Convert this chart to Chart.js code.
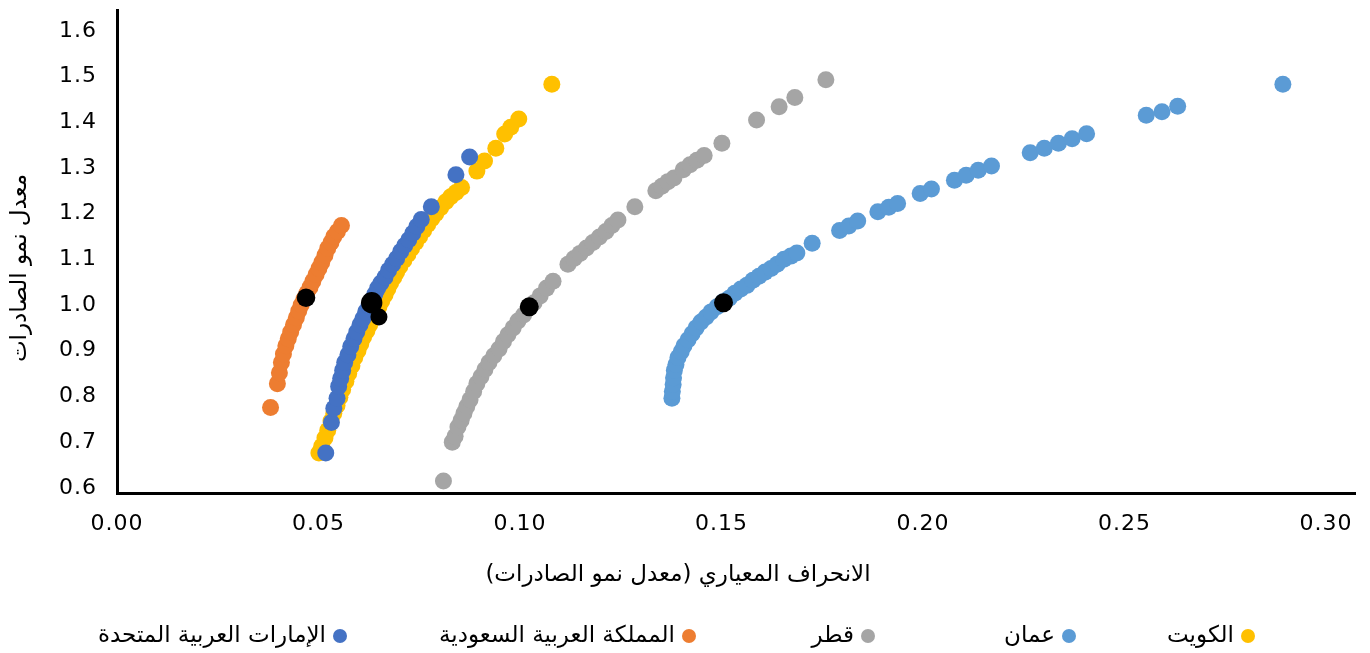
<!DOCTYPE html>
<html lang="ar">
<head>
<meta charset="utf-8">
<title>الحدود الكفؤة لصادرات دول الخليج</title>
<script src="https://cdn.jsdelivr.net/npm/chart.js@4.4.1/dist/chart.umd.min.js"></script>
<style>
  html, body { margin: 0; padding: 0; background: #fff; }
  #wrap { width: 1370px; height: 653px; }
</style>
</head>
<body>
<div id="wrap"><canvas id="chart" width="1370" height="653"></canvas></div>
<script>
// ترتيب السلاسل كما في وسيلة الإيضاح (من اليمين إلى اليسار)
const seriesNames = ['الكويت', 'عمان', 'قطر', 'المملكة العربية السعودية', 'الإمارات العربية المتحدة'];
const seriesColors = ['#FFC000', '#5B9BD5', '#A5A5A5', '#ED7D31', '#4472C4'];

const xTitle = 'الانحراف المعياري (معدل نمو الصادرات)';
const yTitle = 'معدل نمو الصادرات';
const xTicks = [0, 0.05, 0.10, 0.15, 0.20, 0.25, 0.30];
const yTicks = [0.6, 0.7, 0.8, 0.9, 1.0, 1.1, 1.2, 1.3, 1.4, 1.5, 1.6];

// [الانحراف المعياري, معدل النمو]
const kuwaitPoints = [
  [0.0501,0.676],[0.0508,0.691],[0.0516,0.709],[0.0523,0.726],[0.0531,0.746],[0.0538,0.763],
  [0.0546,0.780],[0.0553,0.798],[0.0560,0.815],[0.0568,0.833],[0.0575,0.850],[0.0583,0.867],
  [0.0590,0.885],[0.0598,0.900],[0.0605,0.915],[0.0612,0.930],[0.0620,0.943],[0.0627,0.957],
  [0.0635,0.970],[0.0642,0.983],[0.0650,0.996],[0.0657,1.009],[0.0665,1.022],[0.0672,1.035],
  [0.0679,1.048],[0.0687,1.061],[0.0694,1.072],[0.0702,1.085],[0.0712,1.098],[0.0722,1.111],
  [0.0731,1.124],[0.0741,1.137],[0.0751,1.150],[0.0761,1.163],[0.0771,1.176],[0.0781,1.189],
  [0.0791,1.200],[0.0803,1.213],[0.0816,1.226],[0.0828,1.237],[0.0841,1.246],[0.0855,1.257],
  [0.0893,1.293],[0.0912,1.315],[0.0940,1.343],[0.0962,1.374],[0.0977,1.389],[0.0997,1.407],
  [0.1079,1.483]
];
const omanPoints = [
  [0.1377,0.796],[0.1378,0.811],[0.1380,0.826],[0.1381,0.841],[0.1383,0.857],[0.1387,0.870],
  [0.1392,0.885],[0.1400,0.898],[0.1407,0.911],[0.1417,0.924],[0.1427,0.937],[0.1437,0.950],
  [0.1449,0.963],[0.1462,0.974],[0.1474,0.985],[0.1489,0.996],[0.1504,1.007],[0.1519,1.015],
  [0.1533,1.026],[0.1548,1.035],[0.1563,1.043],[0.1578,1.054],[0.1593,1.063],[0.1608,1.072],
  [0.1623,1.080],[0.1638,1.089],[0.1655,1.100],[0.1672,1.107],[0.1687,1.114],[0.1725,1.135],
  [0.1793,1.163],[0.1816,1.173],[0.1838,1.184],[0.1888,1.204],[0.1915,1.214],[0.1937,1.222],
  [0.1993,1.244],[0.2021,1.254],[0.2078,1.273],[0.2107,1.284],[0.2137,1.295],[0.2170,1.304],
  [0.2266,1.333],[0.2301,1.343],[0.2336,1.354],[0.2370,1.364],[0.2406,1.375],[0.2554,1.415],
  [0.2593,1.423],[0.2632,1.435],[0.2893,1.483]
];
const qatarPoints = [
  [0.0810,0.615],[0.0832,0.700],[0.0839,0.713],[0.0846,0.733],[0.0854,0.748],[0.0861,0.763],
  [0.0868,0.778],[0.0876,0.793],[0.0885,0.811],[0.0893,0.828],[0.0903,0.843],[0.0913,0.859],
  [0.0923,0.874],[0.0935,0.889],[0.0948,0.904],[0.0959,0.920],[0.0970,0.935],[0.0983,0.950],
  [0.0995,0.965],[0.1009,0.978],[0.1022,0.993],[0.1035,1.005],[0.1050,1.020],[0.1066,1.037],
  [0.1082,1.052],[0.1119,1.089],[0.1134,1.102],[0.1149,1.113],[0.1165,1.125],[0.1181,1.137],
  [0.1197,1.149],[0.1213,1.161],[0.1228,1.174],[0.1243,1.186],[0.1285,1.215],[0.1337,1.250],
  [0.1352,1.260],[0.1367,1.270],[0.1382,1.278],[0.1405,1.296],[0.1422,1.307],[0.1439,1.317],
  [0.1457,1.327],[0.1501,1.354],[0.1587,1.405],[0.1643,1.434],[0.1682,1.454],[0.1759,1.493]
];
const saudiPoints = [
  [0.0381,0.776],[0.0398,0.828],[0.0403,0.852],[0.0408,0.874],[0.0413,0.893],[0.0419,0.911],
  [0.0425,0.926],[0.0431,0.941],[0.0438,0.957],[0.0445,0.972],[0.0451,0.987],[0.0457,1.000],
  [0.0464,1.013],[0.0471,1.026],[0.0479,1.039],[0.0486,1.052],[0.0494,1.067],[0.0501,1.080],
  [0.0508,1.093],[0.0516,1.109],[0.0523,1.124],[0.0531,1.137],[0.0538,1.150],[0.0547,1.161],
  [0.0557,1.174]
];
const uaePoints = [
  [0.0518,0.676],[0.0532,0.743],[0.0538,0.774],[0.0546,0.796],[0.0550,0.822],[0.0555,0.839],
  [0.0560,0.857],[0.0565,0.874],[0.0573,0.891],[0.0580,0.909],[0.0588,0.926],[0.0595,0.941],
  [0.0603,0.957],[0.0610,0.970],[0.0617,0.985],[0.0625,0.998],[0.0632,1.011],[0.0640,1.024],
  [0.0647,1.037],[0.0655,1.048],[0.0665,1.061],[0.0674,1.076],[0.0684,1.089],[0.0694,1.102],
  [0.0704,1.117],[0.0714,1.130],[0.0724,1.143],[0.0734,1.157],[0.0744,1.172],[0.0755,1.187],
  [0.0780,1.215],[0.0841,1.285],[0.0875,1.324]
];
// المحافظ الفعلية (النقاط السوداء): السعودية، الكويت، الإمارات، قطر، عمان
const actualPoints = [[0.0469,1.016],[0.0650,0.974],[0.0632,1.005],[0.1023,0.996],[0.1505,1.005]];
const actualRadius = [9.3, 8.5, 10.7, 9.5, 9.5];

// مواضع علامات وسيلة الإيضاح
const legendMarkerX = [1248, 1069, 868, 689, 340];
const legendY = 636;

const toXY = pts => pts.map(([x, y]) => ({ x, y }));
const tickFont = { family: '"DejaVu Sans", sans-serif', size: 22 };
const arabicFont = '23px "DejaVu Sans"';

// المجموعة الأولى تُرسم في الأعلى في Chart.js
const datasets = [
    { label: 'actual', data: toXY(actualPoints), backgroundColor: '#000', pointRadius: actualRadius },
    { label: seriesNames[4], data: toXY(uaePoints), backgroundColor: seriesColors[4] },
    { label: seriesNames[3], data: toXY(saudiPoints), backgroundColor: seriesColors[3] },
    { label: seriesNames[2], data: toXY(qatarPoints), backgroundColor: seriesColors[2] },
    { label: seriesNames[1], data: toXY(omanPoints), backgroundColor: seriesColors[1] },
    { label: seriesNames[0], data: toXY(kuwaitPoints), backgroundColor: seriesColors[0] }
].map(ds => Object.assign({ pointRadius: 8.5, pointBorderWidth: 0, borderWidth: 0 }, ds));

// عناوين المحاور ووسيلة الإيضاح بالعربية
const arabicText = {
    id: 'arabicText',
    beforeDraw(chart) { chart.ctx.letterSpacing = '1px'; },
    beforeDatasetsDraw(chart) { chart.ctx.letterSpacing = '0px'; },
    afterDraw(chart) {
        const ctx = chart.ctx;
        ctx.save();
        ctx.letterSpacing = '0px';
        ctx.direction = 'rtl';
        ctx.fillStyle = '#000';
        ctx.textBaseline = 'middle';
        ctx.font = arabicFont;
        ctx.textAlign = 'center';
        ctx.fillText(xTitle, 678, 575);

        ctx.save();
        ctx.translate(20, 268);
        ctx.rotate(-Math.PI / 2);
        ctx.fillText(yTitle, 0, 0);
        ctx.restore();

        ctx.textAlign = 'right';
        seriesNames.forEach((name, i) => {
            const mx = legendMarkerX[i];
            ctx.beginPath();
            ctx.arc(mx, legendY, 7, 0, Math.PI * 2);
            ctx.fillStyle = seriesColors[i];
            ctx.fill();
            ctx.fillStyle = '#000';
            ctx.fillText(name, mx - 14, legendY);
        });
        ctx.restore();
    }
};

Chart.defaults.color = '#000';

new Chart(document.getElementById('chart'), {
    type: 'scatter',
    data: { datasets },
    options: {
        responsive: false,
        animation: false,
        events: [],
        devicePixelRatio: 1,
        layout: { padding: { left: 0, right: 15, top: 8, bottom: 60 } },
        plugins: { legend: { display: false }, tooltip: { enabled: false } },
        scales: {
            x: {
                type: 'linear',
                min: 0,
                max: 0.3072,
                grid: { display: false, drawTicks: false },
                border: { display: true, color: '#000', width: 3 },
                ticks: { font: tickFont, color: '#000', padding: 18, maxRotation: 0,
                    callback: v => v.toFixed(2) },
                afterBuildTicks: s => { s.ticks = xTicks.map(v => ({ value: v })); },
                afterFit: s => { s.height = 100; }
            },
            y: {
                type: 'linear',
                min: 0.5887,
                max: 1.644,
                grid: { display: false, drawTicks: false },
                border: { display: true, color: '#000', width: 3 },
                ticks: { font: tickFont, color: '#000', padding: 20,
                    callback: v => v.toFixed(1) },
                afterBuildTicks: s => { s.ticks = yTicks.map(v => ({ value: v })); },
                afterFit: s => { s.width = 117; s.paddingTop = 0; s.paddingBottom = 0; }
            }
        }
    },
    plugins: [arabicText]
});
</script>
</body>
</html>
